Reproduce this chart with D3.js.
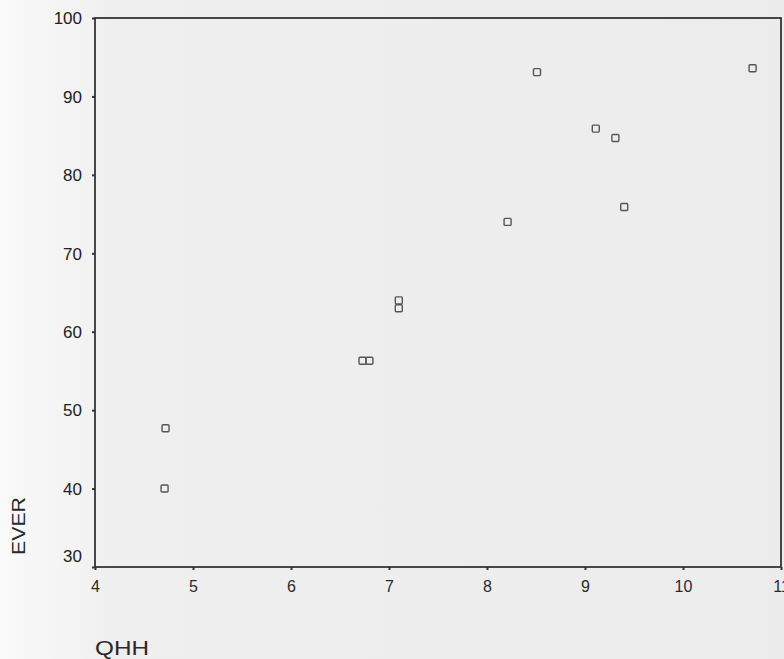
<!DOCTYPE html>
<html>
<head>
<meta charset="utf-8">
<script src="https://cdn.jsdelivr.net/npm/d3@7"></script>
<style>
  body { margin: 0; background: #f2f2f2; }
  svg { display: block; }
</style>
</head>
<body>
<div id="chart"></div>
<script>
// data
var qhh  = [8.51, 10.71, 9.11, 9.31, 9.40, 8.21, 7.10, 7.10, 6.73, 6.80, 4.72, 4.71];
var ever = [93.1, 93.6, 85.9, 84.7, 75.9, 74.0, 64.0, 63.0, 56.3, 56.3, 47.7, 40.0];
var xTicks = [4, 5, 6, 7, 8, 9, 10, 11];
var yTicks = [30, 40, 50, 60, 70, 80, 90, 100];

var data = qhh.map(function(d, i) { return { x: d, y: ever[i] }; });

var margin = {top: 18, right: 4, bottom: 92, left: 95};
var width = 784 - margin.left - margin.right;
var height = 659 - margin.top - margin.bottom;

var svg = d3.select("#chart")
  .append("svg")
  .attr("width", 784)
  .attr("height", 659);

// soft background like the scan
var grad = svg.append("defs").append("linearGradient").attr("id", "bg");
grad.append("stop").attr("offset", "0%").attr("stop-color", "#fafafa");
grad.append("stop").attr("offset", "15%").attr("stop-color", "#efefef");
grad.append("stop").attr("offset", "100%").attr("stop-color", "#ececec");
svg.append("rect").attr("width", 784).attr("height", 659).attr("fill", "url(#bg)");

var g = svg.append("g")
  .attr("transform", "translate(" + margin.left + "," + margin.top + ")");

var x = d3.scaleLinear().domain([4, 11]).range([0, 686]);
var y = d3.scaleLinear().domain([30, 100]).range([height, 0]);

// frame
g.append("rect")
  .attr("width", x(11))
  .attr("height", height)
  .attr("fill", "none")
  .attr("stroke", "#2a2a2a")
  .attr("stroke-width", 1.7);

// X axis
var xAxis = g.append("g")
  .attr("transform", "translate(0," + height + ")")
  .call(d3.axisBottom(x).tickValues(xTicks).tickFormat(d3.format("d")).tickSize(3).tickPadding(11));
xAxis.select(".domain").remove();
xAxis.selectAll("line").attr("stroke", "#333").attr("stroke-width", 2);
xAxis.selectAll("text")
  .attr("fill", "#2a2a2a")
  .style("font-family", "Liberation Sans, Arial, sans-serif")
  .style("font-size", "16px");

// Y axis
var yAxis = g.append("g")
  .call(d3.axisLeft(y).tickValues(yTicks).tickSize(3).tickPadding(10));
yAxis.select(".domain").remove();
yAxis.selectAll("line").attr("stroke", "#333").attr("stroke-width", 2);
yAxis.selectAll("text")
  .attr("fill", "#222")
  .style("font-family", "Liberation Sans, Arial, sans-serif")
  .style("font-size", "17px")
  .attr("dy", function(d) { return d === 30 ? "-0.35em" : "0.34em"; });

// axis titles
svg.append("text")
  .attr("x", 95)
  .attr("y", 655)
  .attr("fill", "#2a2a2a")
  .style("font-family", "Liberation Sans, Arial, sans-serif")
  .style("font-size", "21px")
  .attr("textLength", 54)
  .attr("lengthAdjust", "spacingAndGlyphs")
  .text("QHH");

svg.append("text")
  .attr("transform", "translate(25,526) rotate(-90)")
  .attr("text-anchor", "middle")
  .attr("fill", "#2a2a2a")
  .style("font-family", "Liberation Sans, Arial, sans-serif")
  .style("font-size", "18px")
  .attr("textLength", 58)
  .attr("lengthAdjust", "spacingAndGlyphs")
  .text("EVER");

// points, open squares
g.selectAll(".pt")
  .data(data)
  .enter()
  .append("rect")
  .attr("class", "pt")
  .attr("x", function(d) { return x(d.x) - 3.5; })
  .attr("y", function(d) { return y(d.y) - 3.5; })
  .attr("width", 7)
  .attr("height", 7)
  .attr("rx", 1)
  .attr("fill", "none")
  .attr("stroke", "#555")
  .attr("stroke-width", 1.4);
</script>
</body>
</html>
